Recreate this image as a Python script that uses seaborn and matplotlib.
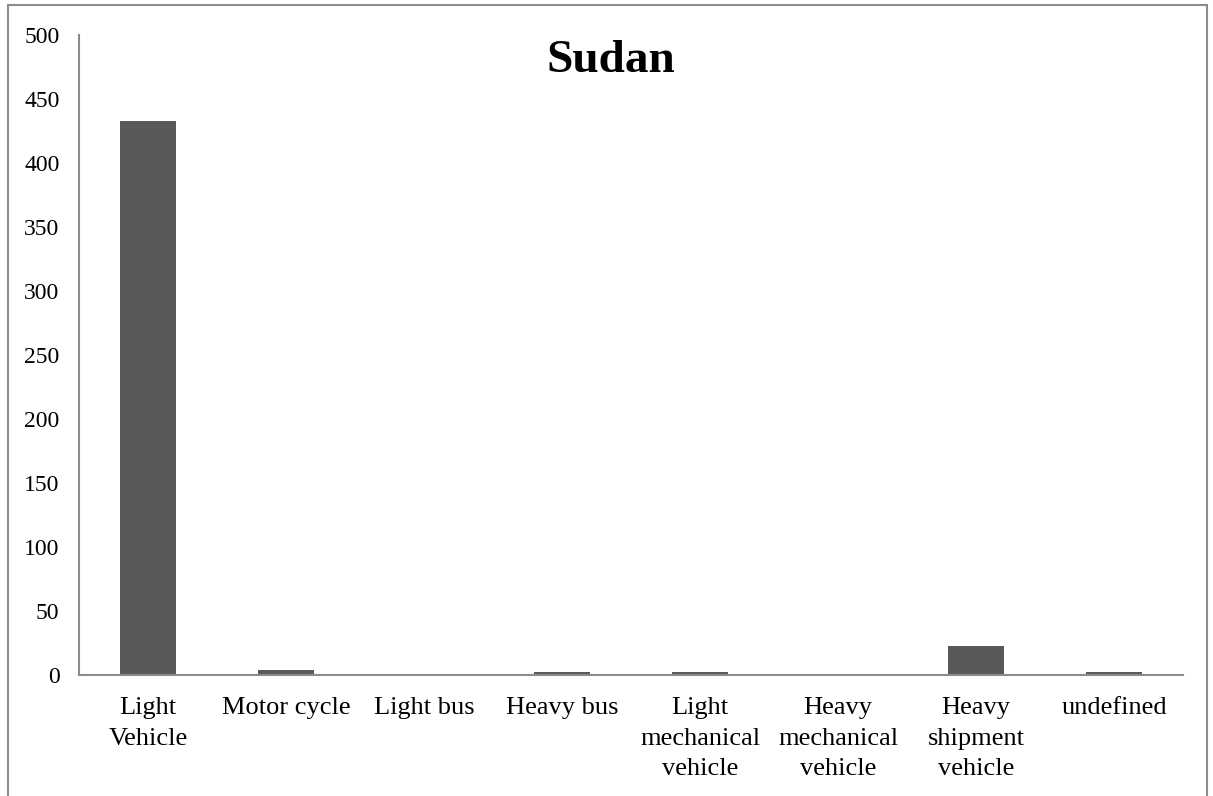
import matplotlib
matplotlib.use("Agg")
import matplotlib.pyplot as plt
import seaborn as sns
import pandas as pd
from matplotlib.patches import Rectangle

categories = ["Light\nVehicle", "Motor cycle", "Light bus", "Heavy bus",
              "Light\nmechanical\nvehicle", "Heavy\nmechanical\nvehicle",
              "Heavy\nshipment\nvehicle", "undefined"]
counts = [433, 4, 0, 2, 2, 0, 23, 2]
y_ticks = [0, 50, 100, 150, 200, 250, 300, 350, 400, 450, 500]

sns.set_theme(style="white")
plt.rcParams["font.family"] = ["Liberation Serif", "DejaVu Serif"]

df = pd.DataFrame({"category": categories, "count": counts})

fig = plt.figure(figsize=(12.13, 7.96), dpi=100)
ax = fig.add_axes([0.0651, 0.152, 0.9102, 0.804])

sns.barplot(data=df, x="category", y="count", color="#595959",
            saturation=1, width=0.406, linewidth=0, ax=ax)

ax.set_ylim(0, 500)
ax.set_xlim(-0.5, len(categories) - 0.5)
ax.set_yticks(y_ticks)
ax.set_yticklabels([str(v) for v in y_ticks], fontsize=17, color="black")
ax.set_xticks(range(len(categories)))
ax.set_xticklabels(categories, fontsize=19, color="black", linespacing=1.5)
ax.tick_params(axis="x", length=0, pad=16)
ax.tick_params(axis="y", length=0, pad=14)
ax.set_xlabel("")
ax.set_ylabel("")

for side in ["top", "right"]:
    ax.spines[side].set_visible(False)
for side in ["left", "bottom"]:
    ax.spines[side].set_color("#8c8c8c")
    ax.spines[side].set_linewidth(1.5)

fig.text(611 / 1213, 1 - 72 / 796, "Sudan", ha="center", va="baseline",
         fontsize=34, fontweight="bold", color="black")

# outer chart frame
fig.patches.append(Rectangle((8 / 1213, -0.05), 1199 / 1213, 1.05 - 5 / 796,
                             transform=fig.transFigure, fill=False,
                             edgecolor="#8c8c8c", linewidth=1.5))

fig.savefig("out.png", dpi=100, facecolor="white")
